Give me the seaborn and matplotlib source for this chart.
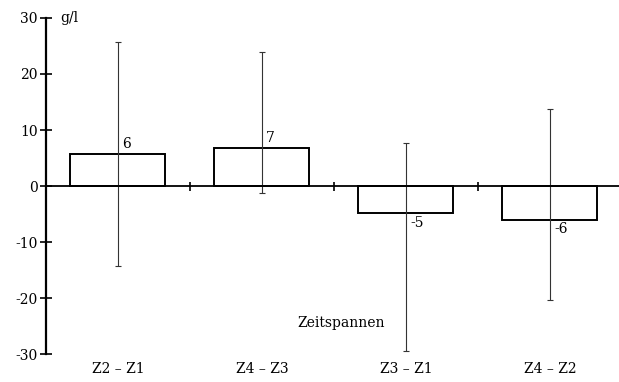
import matplotlib
matplotlib.use("Agg")
import matplotlib.pyplot as plt
import seaborn as sns
import pandas as pd

# values
categories = ["Z2 – Z1", "Z4 – Z3", "Z3 – Z1", "Z4 – Z2"]
means = [5.7, 6.8, -4.8, -6.0]
labels = ["6", "7", "-5", "-6"]
err_low = [-14.3, -1.2, -29.5, -20.3]
err_high = [25.7, 23.9, 7.7, 13.8]
yticks = [-30, -20, -10, 0, 10, 20, 30]
ytick_labels = ["-30", "-20", "-10", "0", "10", "20", "30"]

df = pd.DataFrame({"Zeitspanne": categories, "Wert": means})

sns.set_style("white")
plt.rcParams["font.family"] = ["DejaVu Serif"]

fig = plt.figure(figsize=(6.19, 3.82), dpi=100)
ax = fig.add_axes([0.074, 0.073, 0.926, 0.880])

sns.barplot(data=df, x="Zeitspanne", y="Wert", ax=ax, width=0.66,
            fill=False, edgecolor="black", linewidth=1.4, errorbar=None)

xs = range(len(categories))
for i, (lo, hi, m) in enumerate(zip(err_low, err_high, means)):
    ax.errorbar(i, m, yerr=[[m - lo], [hi - m]], fmt="none", ecolor="#333333",
                elinewidth=0.8, capsize=2, capthick=0.8)

# zero line with category separators
ax.axhline(0, color="black", lw=1.3)
ax.vlines([i + 0.5 for i in xs], -0.8, 0.8, color="black", lw=1.2)

# value labels
for i, (m, t) in enumerate(zip(means, labels)):
    if m > 0:
        ax.text(i + 0.03, m + 0.5, t, ha="left", va="bottom", fontsize=10, color="black")
    else:
        ax.text(i + 0.03, m - 0.5, t, ha="left", va="top", fontsize=10, color="black")

ax.set_ylim(-30, 30)
ax.set_xlim(-0.5, 3.48)
ax.set_yticks(yticks)
ax.set_yticklabels(ytick_labels)
ax.tick_params(axis="y", left=True, direction="inout", length=8, width=1.2,
               labelsize=10, pad=2, color="black", labelcolor="black")
ax.tick_params(axis="x", length=0, labelsize=10, pad=6, labelcolor="black")

for s in ["top", "right", "bottom"]:
    ax.spines[s].set_visible(False)
ax.spines["left"].set_linewidth(1.6)
ax.spines["left"].set_color("black")

ax.set_xlabel("")
ax.set_ylabel("")
ax.text(0.025, 30, "g/l", ha="left", va="center", fontsize=10, color="black",
        transform=ax.get_yaxis_transform())
ax.text(1.55, -24.5, "Zeitspannen", ha="center", va="center", fontsize=10, color="black")

fig.savefig("out.png", dpi=100)
